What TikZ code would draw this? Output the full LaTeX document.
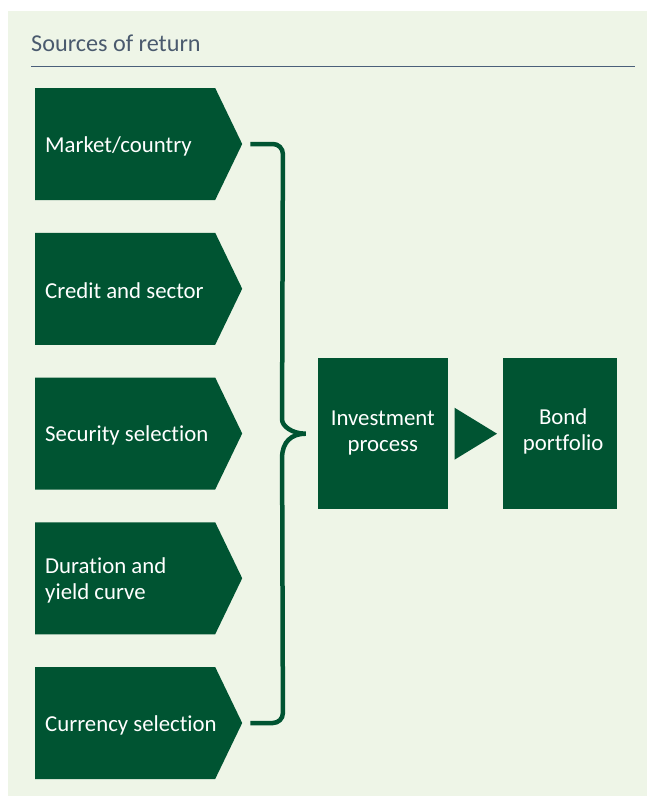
\documentclass[tikz,border=0pt]{standalone}
\usepackage{fontspec}
\setmainfont{Carlito}[Ligatures=NoCommon]
\usetikzlibrary{calc,shapes.symbols}
\definecolor{dg}{RGB}{0,84,50}
\definecolor{panel}{RGB}{238,245,231}
\definecolor{titlec}{RGB}{74,90,110}
\definecolor{rulec}{RGB}{74,95,122}
\begin{document}
\begin{tikzpicture}[x=1pt,y=-1pt,
  chev/.style={signal, signal to=east, signal pointer angle=128.5, fill=dg, draw=none,
    minimum width=207pt, minimum height=112pt, inner sep=0pt, anchor=west},
  lbl/.style={text=white, font=\fontsize{22.8}{26}\selectfont, inner sep=0pt},
  box/.style={fill=dg, draw=none, inner sep=0pt},
  brace/.style={draw=dg, line width=4.5pt, line cap=butt}]
\useasboundingbox (0,0) rectangle (647,798);
\fill[panel] (8,11) rectangle (647,796);
\node[anchor=base west, text=titlec, font=\fontsize{24.2}{28}\selectfont, inner sep=0pt] (title) at (31,51.5) {Sources of return};
\draw[rulec, line width=1.2pt] (31,66.3) -- (635,66.3);

\foreach \i/\y in {1/144,2/288.75,3/433.5,4/578.25,5/723}{
  \node[chev] (c\i) at (35,\y) {};
}
\node[lbl, anchor=west] (t1) at ($(c1.west)+(10,2)$) {Market/country};
\node[lbl, anchor=west] (t2) at ($(c2.west)+(10,2)$) {Credit and sector};
\node[lbl, anchor=west] (t3) at ($(c3.west)+(10,2)$) {Security selection};
\node[lbl, anchor=west, align=left] (t4) at ($(c4.west)+(10,2)$) {Duration and\\yield curve};
\node[lbl, anchor=west] (t5) at ($(c5.west)+(10,2)$) {Currency selection};

\node[box, minimum width=130pt, minimum height=151.3pt] (inv) at (382.8,433.7) {};
\node[lbl, align=center] (invt) at ($(inv.center)+(0,-1)$) {Investment\\process};
\node[box, minimum width=114pt, minimum height=151.3pt] (bond) at (559.7,433.7) {};
\node[lbl, align=center] (bondt) at ($(bond.center)+(3.5,-2.5)$) {Bond\\portfolio};

\fill[dg] ($(inv.east)+(6.5,-26)$) -- ($(inv.east)+(49,0)$) -- ($(inv.east)+(6.5,26)$) -- cycle;

\coordinate (tip) at ($(inv.west)+(-12,0)$);
\coordinate (a1) at ($(c1.east)+(8,0)$);
\coordinate (a5) at ($(c5.east)+(8,0)$);
\draw[brace] (a1) [rounded corners=10pt] -- ($(a1)+(32.5,0)$) -- ($(tip)+(-23.5,-24)$) [sharp corners]
  .. controls ($(tip)+(-23.5,-8)$) and ($(tip)+(-14,0)$) .. (tip)
  .. controls ($(tip)+(-14,0)$) and ($(tip)+(-23.5,8)$) .. ($(tip)+(-23.5,24)$)
  [rounded corners=10pt] -- ($(a5)+(32.5,0)$) -- (a5);
\end{tikzpicture}
\end{document}
